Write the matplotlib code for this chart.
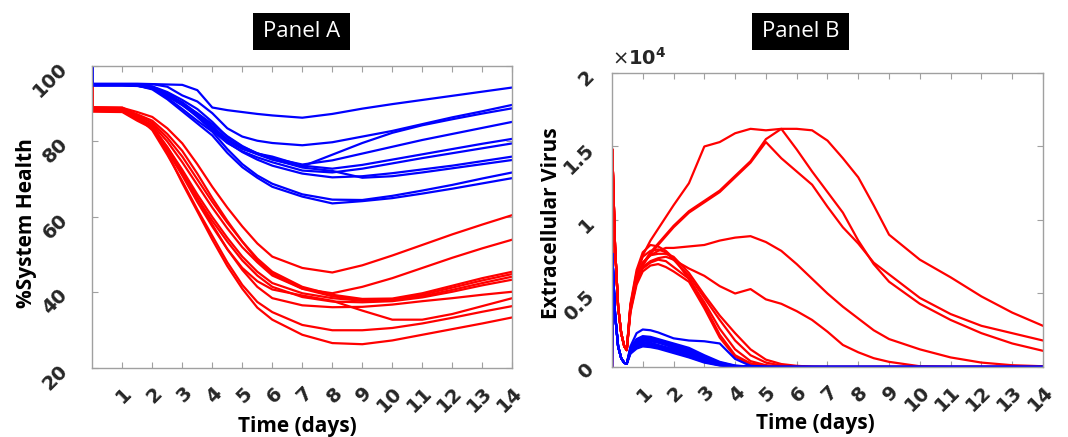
import matplotlib
matplotlib.use("Agg")
import matplotlib.pyplot as plt
from matplotlib.patches import Rectangle

# ---------------- Panel A : %System Health ----------------
t_health = [0, 0.02, 1, 1.5, 2, 2.5, 3, 3.5, 4, 4.5, 5, 5.5, 6, 7, 8, 9, 10, 11, 12, 13, 14]

hb1 = [100, 95.2, 95.2, 95.2, 95.2, 95.1, 95.0, 93.6, 89.0, 88.3, 87.8, 87.3, 86.9, 86.3, 87.3, 88.7, 89.9, 91.0, 92.1, 93.2, 94.3]
hb2 = [100, 95.3, 95.3, 95.3, 95.2, 94.5, 92.2, 90.6, 87.5, 83.5, 81.3, 80.2, 79.6, 79.0, 79.8, 81.3, 82.8, 84.6, 86.4, 88.0, 89.7]
hb3 = [100, 95.0, 95.0, 94.9, 94.2, 92.6, 90.4, 87.4, 84.0, 80.6, 78.2, 76.6, 75.2, 73.4, 76.5, 79.6, 82.3, 84.3, 85.9, 87.4, 88.8]
hb4 = [100, 95.1, 95.1, 95.0, 94.6, 93.1, 91.0, 88.6, 85.2, 81.2, 78.6, 76.9, 75.6, 73.9, 75.0, 76.8, 78.6, 80.4, 82.0, 83.6, 85.2]
hb5 = [100, 94.9, 94.9, 94.8, 94.0, 92.0, 89.6, 86.8, 83.6, 80.2, 78.0, 76.8, 76.0, 73.6, 72.8, 73.8, 75.2, 76.6, 78.0, 79.4, 80.7]
hb6 = [100, 95.0, 95.0, 94.9, 94.3, 92.4, 89.8, 86.5, 82.9, 79.6, 77.4, 75.8, 74.5, 72.3, 71.8, 72.8, 74.2, 75.6, 76.9, 78.2, 79.5]
hb7 = [100, 95.2, 95.2, 95.1, 94.5, 92.8, 90.1, 86.8, 83.2, 79.8, 77.2, 75.2, 73.6, 71.5, 70.5, 70.8, 71.6, 72.6, 73.6, 74.8, 76.0]
hb8 = [100, 94.8, 94.8, 94.7, 94.1, 92.2, 89.9, 87.5, 84.6, 81.4, 78.8, 76.8, 75.3, 73.1, 72.2, 70.4, 70.8, 71.8, 72.9, 74.0, 75.1]
hb9 = [100, 95.1, 95.1, 95.0, 94.2, 91.6, 88.6, 85.5, 82.6, 78.0, 74.0, 71.0, 68.8, 66.0, 64.6, 64.5, 65.6, 67.0, 68.5, 70.2, 71.8]
hb10 = [100, 94.9, 94.9, 94.8, 93.8, 91.2, 88.0, 84.8, 81.6, 77.0, 73.2, 70.4, 68.0, 65.4, 63.6, 64.2, 65.0, 66.2, 67.5, 68.9, 70.3]

hr1 = [100, 89.0, 88.9, 87.8, 86.5, 83.5, 79.5, 74.0, 68.0, 62.5, 57.5, 53.0, 49.5, 46.5, 45.3, 47.2, 49.8, 52.6, 55.4, 58.0, 60.5]
hr2 = [100, 88.7, 88.6, 87.2, 85.5, 82.0, 77.5, 71.5, 65.0, 59.0, 53.5, 48.5, 45.0, 41.0, 39.8, 41.5, 43.8, 46.5, 49.2, 51.7, 54.0]
hr3 = [100, 88.5, 88.4, 86.8, 85.0, 81.0, 76.0, 70.0, 64.0, 58.5, 53.5, 49.0, 45.5, 41.5, 39.4, 38.3, 38.4, 39.8, 41.8, 43.8, 45.5]
hr4 = [100, 88.3, 88.2, 86.3, 84.5, 80.0, 74.5, 68.5, 62.5, 57.0, 52.0, 48.0, 44.5, 41.0, 39.0, 38.0, 38.1, 39.4, 41.3, 43.2, 44.9]
hr5 = [100, 88.1, 88.0, 85.8, 84.0, 78.5, 72.5, 66.0, 60.0, 54.5, 49.5, 45.5, 42.5, 39.8, 38.5, 37.8, 37.9, 39.0, 40.7, 42.5, 44.2]
hr6 = [100, 87.9, 87.8, 85.5, 83.5, 78.0, 71.5, 65.0, 59.0, 53.5, 48.5, 44.5, 41.5, 38.8, 37.6, 37.4, 37.7, 38.7, 40.2, 41.9, 43.4]
hr7 = [100, 88.6, 88.5, 86.5, 84.0, 78.5, 72.0, 65.0, 58.0, 51.5, 46.0, 41.5, 38.5, 36.6, 36.1, 36.2, 36.8, 37.7, 38.5, 39.4, 40.2]
hr8 = [100, 88.2, 88.1, 86.0, 83.5, 77.5, 71.0, 64.0, 57.5, 51.5, 46.5, 43.0, 40.8, 39.2, 37.8, 35.2, 32.8, 32.8, 34.3, 36.4, 38.5]
hr9 = [100, 88.8, 88.7, 86.5, 83.0, 76.5, 69.5, 62.0, 55.0, 48.0, 42.0, 37.5, 34.8, 31.4, 30.0, 30.0, 30.6, 31.8, 33.3, 34.9, 36.4]
hr10 = [100, 89.1, 89.0, 87.0, 83.5, 77.0, 69.0, 61.5, 54.0, 47.0, 41.0, 36.0, 32.8, 28.8, 26.6, 26.3, 27.3, 28.8, 30.3, 31.8, 33.4]

health_blue = [hb1, hb2, hb3, hb4, hb5, hb6, hb7, hb8, hb9, hb10]
health_red = [hr1, hr2, hr3, hr4, hr5, hr6, hr7, hr8, hr9, hr10]

# ---------------- Panel B : Extracellular virus ----------------
t_start = [0, 0.01, 0.1, 0.2, 0.3, 0.4, 0.48]
red_start = [0, 14800, 8200, 4100, 2300, 1400, 1150]
blue_start = [0, 7700, 3600, 1400, 600, 280, 220]

t_red = [0.6, 0.8, 1.0, 1.25, 1.5, 1.75, 2, 2.5, 3, 3.5, 4, 4.5, 5, 5.5, 6, 6.5, 7, 7.5, 8, 8.5, 9, 10, 11, 12, 13, 14]
vr1 = [4000, 6300, 7600, 8600, 9400, 10200, 11000, 12500, 15000, 15300, 15900, 16200, 16100, 16200, 16200, 16100, 15400, 14200, 12900, 11000, 9000, 7300, 6100, 4800, 3700, 2800]
vr2 = [4200, 6000, 7000, 7800, 8400, 9000, 9600, 10600, 11300, 12000, 13000, 14000, 15500, 16200, 14800, 13300, 11900, 10500, 8600, 7000, 5800, 4300, 3200, 2300, 1600, 1100]
vr3 = [4100, 5900, 6900, 7700, 8300, 8900, 9500, 10500, 11200, 11900, 12900, 13900, 15300, 14200, 13300, 12400, 10900, 9500, 8400, 7100, 6300, 4700, 3600, 2800, 2300, 1800]
vr4 = [4000, 6000, 7100, 7600, 7900, 8100, 8100, 8200, 8300, 8600, 8800, 8900, 8500, 7900, 7000, 6000, 5000, 4100, 3300, 2500, 1900, 1200, 650, 300, 120, 50]
vr5 = [3800, 5800, 6800, 7200, 7400, 7500, 7300, 6700, 6200, 5500, 5000, 5300, 4600, 4300, 3800, 3200, 2400, 1500, 1000, 600, 350, 50, 0, 0, 0, 0]
vr6 = [4300, 6600, 7800, 8300, 8200, 7900, 7400, 6000, 4400, 2600, 1200, 400, 120, 40, 0, 0, 0, 0, 0, 0, 0, 0, 0, 0, 0, 0]
vr7 = [4200, 6400, 7500, 7900, 8000, 7800, 7300, 6200, 4700, 3200, 1800, 800, 300, 100, 30, 0, 0, 0, 0, 0, 0, 0, 0, 0, 0, 0]
vr8 = [4000, 6100, 7100, 7600, 7700, 7700, 7500, 6400, 4900, 3500, 2300, 1200, 500, 200, 80, 20, 0, 0, 0, 0, 0, 0, 0, 0, 0, 0]
vr9 = [3900, 5800, 6700, 7100, 7300, 7200, 6800, 6000, 4200, 2200, 800, 250, 80, 20, 0, 0, 0, 0, 0, 0, 0, 0, 0, 0, 0, 0]
vr10 = [3700, 5600, 6500, 6900, 7000, 6800, 6500, 5800, 4000, 2000, 700, 150, 40, 0, 0, 0, 0, 0, 0, 0, 0, 0, 0, 0, 0, 0]

t_blue = [0.6, 0.8, 1.0, 1.25, 1.5, 1.75, 2, 2.5, 3, 3.5, 4, 4.5, 5, 14]
vb1 = [1400, 2300, 2550, 2500, 2350, 2150, 1950, 1800, 1750, 1600, 550, 80, 0, 0]
vb2 = [1300, 1900, 2100, 2050, 1900, 1750, 1600, 1300, 800, 350, 100, 20, 0, 0]
vb3 = [1250, 1850, 2000, 1950, 1800, 1650, 1500, 1200, 700, 300, 80, 15, 0, 0]
vb4 = [1200, 1800, 1950, 1900, 1750, 1600, 1450, 1100, 600, 250, 60, 10, 0, 0]
vb5 = [1150, 1700, 1900, 1850, 1700, 1500, 1300, 950, 500, 200, 50, 10, 0, 0]
vb6 = [1100, 1650, 1800, 1750, 1650, 1500, 1350, 1000, 550, 220, 60, 10, 0, 0]
vb7 = [1050, 1550, 1700, 1650, 1500, 1350, 1200, 850, 450, 150, 40, 5, 0, 0]
vb8 = [1000, 1450, 1600, 1550, 1450, 1300, 1150, 800, 400, 140, 30, 5, 0, 0]
vb9 = [950, 1350, 1500, 1450, 1350, 1200, 1050, 700, 350, 120, 30, 5, 0, 0]
vb10 = [900, 1250, 1400, 1350, 1250, 1100, 950, 650, 300, 100, 20, 0, 0, 0]

virus_red = [vr1, vr2, vr3, vr4, vr5, vr6, vr7, vr8, vr9, vr10]
virus_blue = [vb1, vb2, vb3, vb4, vb5, vb6, vb7, vb8, vb9, vb10]

day_ticks = list(range(1, 15))
health_ticks = [20, 40, 60, 80, 100]
virus_ticks = [0, 5000, 10000, 15000, 20000]
virus_tick_labels = ['0', '0.5', '1', '1.5', '2']

RED = '#ff0000'
BLUE = '#0000ff'
LABEL_FONT = 'Open Sans'

fig = plt.figure(figsize=(10.68, 4.37), dpi=100)
axA = fig.add_axes([0.0864, 0.1579, 0.3933, 0.6911])
axB = fig.add_axes([0.5730, 0.1602, 0.4036, 0.6728])

for ys in health_red:
    axA.plot(t_health, ys, color=RED, lw=1.6)
for ys in health_blue:
    axA.plot(t_health, ys, color=BLUE, lw=1.6)

for ys in virus_red:
    axB.plot(t_start + t_red, red_start + ys, color=RED, lw=1.6)
for ys in virus_blue:
    axB.plot(t_start + t_blue, blue_start + ys, color=BLUE, lw=1.6)

axA.set_xlim(0, 14)
axA.set_ylim(20, 100)
axA.set_xticks(day_ticks)
axA.set_yticks(health_ticks)

axB.set_xlim(0, 14)
axB.set_ylim(0, 20000)
axB.set_xticks(day_ticks)
axB.set_yticks(virus_ticks, virus_tick_labels)


def style(ax, ypad):
    for s in ax.spines.values():
        s.set_color('#a0a0a0')
        s.set_linewidth(1.0)
    ax.tick_params(direction='in', top=True, right=True, length=4, width=0.8,
                   color='#a0a0a0', labelsize=14, labelcolor='#262626')
    ax.tick_params(axis='x', pad=11)
    ax.tick_params(axis='y', pad=ypad)
    for lbl in ax.get_xticklabels():
        lbl.set_rotation(45)
        lbl.set_ha('right')
        lbl.set_va('top')
        lbl.set_rotation_mode('anchor')
        lbl.set_fontweight('bold')
    for lbl in ax.get_yticklabels():
        lbl.set_rotation(45)
        lbl.set_ha('right')
        lbl.set_va('center')
        lbl.set_rotation_mode('anchor')
        lbl.set_fontweight('bold')


style(axA, 20)
style(axB, 15)

axA.set_xlabel('Time (days)', fontsize=15, fontweight='bold', family=LABEL_FONT)
axA.xaxis.set_label_coords(0.488, -0.158)
axA.set_ylabel('%System Health', fontsize=15, fontweight='bold', family=LABEL_FONT)
axA.yaxis.set_label_coords(-0.131, 0.48)

axB.set_xlabel('Time (days)', fontsize=15, fontweight='bold', family=LABEL_FONT)
axB.xaxis.set_label_coords(0.473, -0.158)
axB.set_ylabel('Extracellular Virus', fontsize=15, fontweight='bold', family=LABEL_FONT)
axB.yaxis.set_label_coords(-0.116, 0.49)

axB.text(0.0, 1.015, r'$\times\mathbf{10^{4}}$', transform=axB.transAxes,
         fontsize=14, color='#262626', ha='left', va='bottom')

# black title boxes
for x0, title in [(0.2369, 'Panel A'), (0.7041, 'Panel B')]:
    fig.patches.append(Rectangle((x0, 0.8856), 0.0908, 0.0847, transform=fig.transFigure,
                                 facecolor='black', edgecolor='none'))
    fig.text(x0 + 0.0454, 0.8856 + 0.0423, title, color='white', fontsize=16,
             family=LABEL_FONT, ha='center', va='center')

fig.savefig('out.png', dpi=100)
